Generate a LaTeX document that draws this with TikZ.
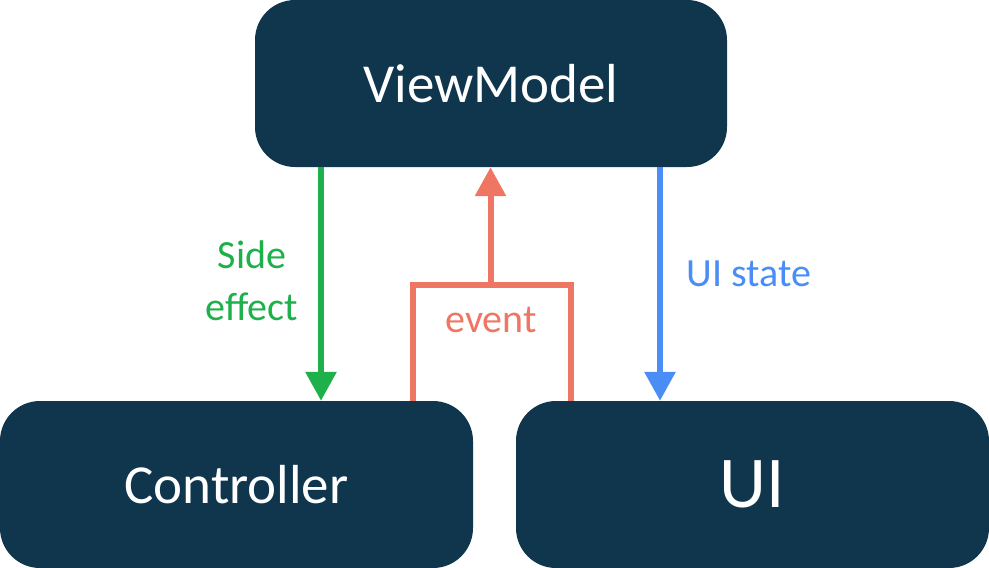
\documentclass[tikz,border=0pt]{standalone}
\usepackage{fontspec}
\setmainfont{Carlito}
\usetikzlibrary{arrows.meta}
\definecolor{navy}{HTML}{10364D}
\definecolor{sgreen}{HTML}{1DB04B}
\definecolor{sred}{HTML}{F07664}
\definecolor{sblue}{HTML}{4A8DF6}
\tikzset{
  box/.style={rectangle, rounded corners=40pt, fill=navy, draw=none, text=white,
    minimum height=167pt, inner sep=0pt},
  conn/.style={line width=6pt, -{Triangle[width=30pt,length=29pt]}},
  plain/.style={line width=6pt},
  lbl/.style={font=\fontsize{40}{52}\selectfont, inner sep=0pt}
}
\begin{document}
\begin{tikzpicture}[x=1pt,y=-1pt]
\useasboundingbox (0,0) rectangle (989,568);
\node[box, minimum width=472pt, font=\fontsize{55}{66}\selectfont] (vm) at (491,83.5) {ViewModel};
\node[box, minimum width=473pt, font=\fontsize{55}{66}\selectfont] (ctrl) at (236.5,484.5) {Controller};
\node[box, minimum width=473pt, font=\fontsize{73}{88}\selectfont] (ui) at (752.5,484.5) {UI};
\coordinate (g) at (321,0);
\coordinate (b) at (660,0);
\coordinate (rl) at (413,0);
\coordinate (rr) at (571,0);
\coordinate (mid) at (490.5,285);
\draw[conn, sgreen] (vm.south -| g) -- (ctrl.north -| g);
\draw[conn, sblue] (vm.south -| b) -- (ui.north -| b);
\draw[plain, sred] (ctrl.north -| rl) |- (mid) -| (ui.north -| rr);
\draw[conn, sred] (mid) -- (vm.south -| mid);
\node[lbl, text=sgreen, align=center] (se) at (252,281) {Side\\effect};
\node[lbl, text=sblue, anchor=base] (us) at (749,286) {UI state};
\node[lbl, text=sred, anchor=base] (ev) at (491,332) {event};
\end{tikzpicture}
\end{document}
